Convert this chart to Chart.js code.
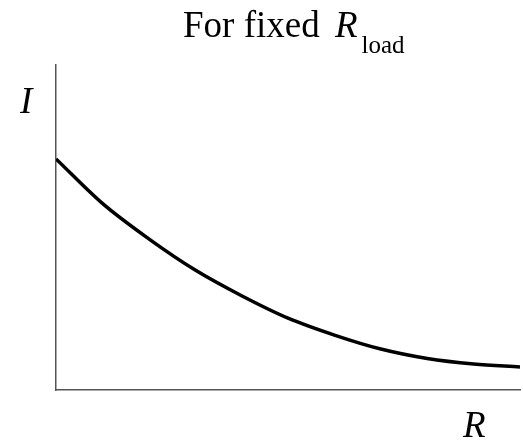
<!DOCTYPE html>
<html>
<head>
<meta charset="utf-8">
<script src="https://cdn.jsdelivr.net/npm/chart.js@4"></script>
<style>
  html, body { margin: 0; padding: 0; background: #fff; }
  #wrap { width: 523px; height: 441px; }
</style>
</head>
<body>
<div id="wrap"><canvas id="c" width="523" height="441"></canvas></div>
<script>
// Data (arbitrary units)
const rValues = [0, 1, 2, 3, 4, 5, 6, 7, 8, 9, 10];
const iValues = [7.11, 5.74, 4.65, 3.69, 2.90, 2.21, 1.69, 1.26, 0.97, 0.80, 0.71];
const titleMain = "For fixed ";
const titleVar = "R";
const titleSub = "load";
const yLabel = "I";
const xLabel = "R";

const points = rValues.map((r, k) => ({ x: r, y: iValues[k] }));

const textPlugin = {
  id: 'texts',
  afterDraw(chart) {
    const ctx = chart.ctx;
    const ca = chart.chartArea;
    ctx.save();
    ctx.fillStyle = '#000';
    ctx.textBaseline = 'alphabetic';
    ctx.textAlign = 'left';
    // Title
    ctx.font = '37px "Liberation Serif"';
    let x = 183;
    ctx.fillText(titleMain, x, 37);
    x += ctx.measureText(titleMain).width + 6;
    ctx.font = 'italic 37px "Liberation Serif"';
    ctx.fillText(titleVar, x, 37);
    x += ctx.measureText(titleVar).width + 4;
    ctx.font = '25px "Liberation Serif"';
    ctx.fillText(titleSub, x, 53);
    // Axis labels
    ctx.font = 'italic 37px "Liberation Serif"';
    ctx.fillText(yLabel, ca.left - 36, 113);
    ctx.fillText(xLabel, ca.right - 57, 437);
    ctx.restore();
  }
};

new Chart(document.getElementById('c'), {
  type: 'line',
  data: {
    datasets: [{
      data: points,
      borderColor: '#000',
      borderWidth: 3.5,
      pointRadius: 0,
      cubicInterpolationMode: 'monotone',
      fill: false
    }]
  },
  options: {
    responsive: false,
    animation: false,
    events: [],
    layout: { padding: { left: 56, right: 3, top: 65, bottom: 51 } },
    plugins: { legend: { display: false }, title: { display: false }, tooltip: { enabled: false } },
    scales: {
      x: {
        type: 'linear', min: 0, max: 10,
        grid: { display: false, drawTicks: false },
        ticks: { display: false },
        border: { display: true, color: '#555', width: 1.5 }
      },
      y: {
        type: 'linear', min: 0, max: 10,
        grid: { display: false, drawTicks: false },
        ticks: { display: false },
        border: { display: true, color: '#555', width: 1.5 }
      }
    }
  },
  plugins: [textPlugin]
});
</script>
</body>
</html>
